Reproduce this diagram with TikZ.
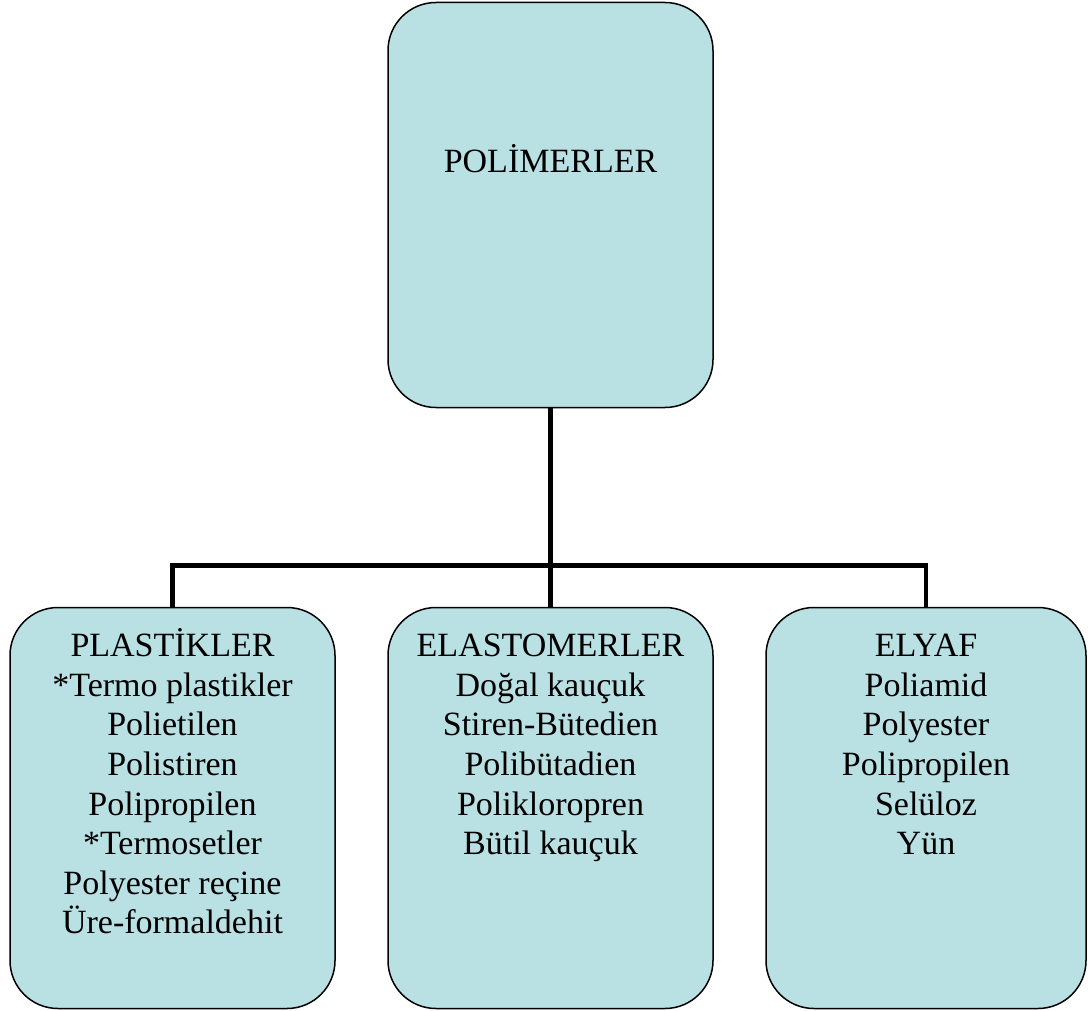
\documentclass[tikz,border=0pt]{standalone}
\usepackage{fontspec}
\setmainfont{Liberation Serif}
\usetikzlibrary{positioning}
\definecolor{boxfill}{RGB}{185,224,227}

\begin{document}
\begin{tikzpicture}[node distance=200pt,
  box/.style={draw=black, line width=1.5pt, fill=boxfill, rounded corners=48pt,
    outer sep=0pt, inner sep=0pt, minimum width=325pt, minimum height=401pt},
  txt/.style={align=center, inner sep=0pt, font=\fontsize{34}{39.6}\selectfont},
  conn/.style={line width=4.5pt}]
\useasboundingbox (0,0) rectangle (1088pt,-1011pt);

\node[box, minimum height=405pt] (POL) at (550.5pt,-205pt) {};
\node[box, below=of POL] (ELA) {};
\node[box, left=53pt of ELA] (PLA) {};
\node[box, right=53pt of ELA, minimum width=320pt] (ELY) {};

% baglantilar
\path[conn] (POL) edge (ELA);
\draw[conn] (PLA.north) -- ([yshift=42pt]PLA.north) -| (ELY.north);

\node[txt, below=137.5pt of POL.north] (POLt) {\rule{0pt}{32pt}POLİMERLER};
\node[txt, below=17pt of PLA.north] (PLAt) {\rule{0pt}{32pt}PLASTİKLER\\{}*Termo plastikler\\Polietilen\\Polistiren\\Polipropilen\\{}*Termosetler\\Polyester reçine\\Üre-formaldehit};
\node[txt, below=17pt of ELA.north] (ELAt) {\rule{0pt}{32pt}ELASTOMERLER\\Doğal kauçuk\\Stiren-Bütedien\\Polibütadien\\Polikloropren\\Bütil kauçuk};
\node[txt, below=17pt of ELY.north] (ELYt) {\rule{0pt}{32pt}ELYAF\\Poliamid\\Polyester\\Polipropilen\\Selüloz\\Yün};
\end{tikzpicture}
\end{document}
